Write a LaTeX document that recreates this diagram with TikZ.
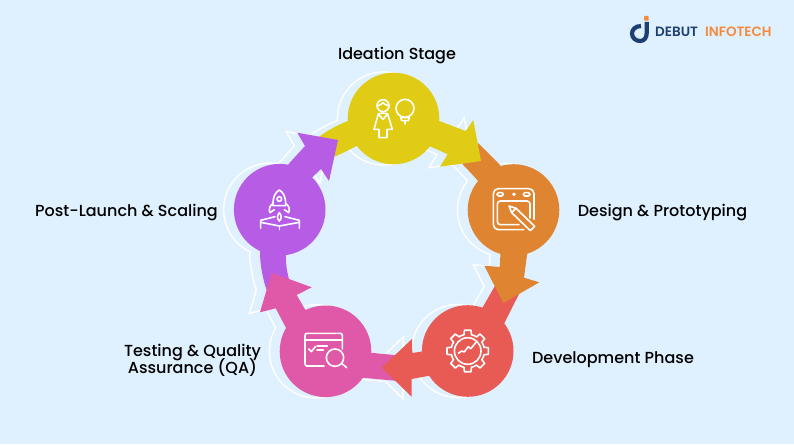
\documentclass[tikz,border=0pt]{standalone}
\usepackage{fontspec}
\setmainfont{Poppins}[UprightFont=* Medium,BoldFont=* SemiBold]
\definecolor{bgc}{HTML}{DFF0FE}
\definecolor{cy}{HTML}{E0CC14}
\definecolor{co}{HTML}{DF8532}
\definecolor{cr}{HTML}{E85A54}
\definecolor{cp}{HTML}{E058A8}
\definecolor{cv}{HTML}{B75CE5}
\definecolor{navy}{HTML}{1D3F72}
\definecolor{lorange}{HTML}{F58A3C}
\tikzset{
  icon/.style={draw=white,line width=1.6pt,line join=round,line cap=round},
  lbl/.style={font=\fontsize{16}{17}\selectfont,text=black,inner sep=0pt,align=center},
  logotext/.style={anchor=west,inner sep=0pt,font=\bfseries\fontsize{13.5}{14}\selectfont},
}
% tails, then circles, then heads: the arrows overlap one another cyclically
\newcommand{\wheel}[5]{%
  \fill[#1] (318.3,137.3) .. controls (328,130) and (338,125) .. (347.7,121) -- (360,130) -- (356.7,146) -- (335,156.7) -- cycle;
  \fill[#2] (478.3,143.3) -- (500,165) -- (505,180) -- (490,190) -- (478,181) .. controls (473,175) and (468,170) .. (462.3,164) -- cycle;
  \fill[#3] (495,285.7) -- (482.7,307.3) -- (470,330) -- (490,340) -- (504.3,323.3) -- (519,294) -- cycle;
  \fill[#4] (371,352.7) -- (396.7,355.3) -- (395,380.7) -- (362.3,377.7) -- (350,365) -- (355,350) -- cycle;
  \fill[#5] (260,251.7) .. controls (260,265) and (263,280) .. (266.7,290) -- (290,283.3) .. controls (287,272) and (285.7,265) .. (286,255) -- (280,230) -- cycle;
  \fill[#1] (393.5,118.5) circle (45.8);
  \fill[#2] (513.5,210) circle (45.8);
  \fill[#3] (467.7,351) circle (45.8);
  \fill[#4] (325.5,351.3) circle (45.8);
  \fill[#5] (279.7,209.7) circle (45.8);
  \fill[#1] (439.3,121) -- (465.7,131) -- (473.3,120) -- (481,161) -- (440,166.7) -- (447.7,154.3) -- (429.3,146) -- (420,130) -- cycle;
  \fill[#2] (500.7,250) -- (499.7,267) -- (484.3,265.7) -- (503.3,303) -- (539.3,282.3) -- (524,277.7) -- (527.7,250) -- cycle;
  \fill[#3] (425,351) -- (412.3,353) -- (412,339) -- (381.7,367.7) -- (411.7,396.7) -- (411.7,379) -- (429.3,375.7) -- (440,365) -- cycle;
  \fill[#4] (285.7,327.3) -- (275.7,308.3) -- (260,312.3) -- (271.7,272.7) -- (311.7,287.3) -- (296.7,295) -- (305,309.3) -- (320,320) -- (300,340) -- cycle;
  \fill[#5] (288.3,164.3) -- (305,146) -- (297.3,132.7) -- (338,140) -- (329,181) -- (321,169) -- (312.3,177.3) -- (290,190) -- cycle;
}
\begin{document}
\begin{tikzpicture}[x=1pt,y=-1pt]
\useasboundingbox (0,0) rectangle (794,444);
\fill[bgc] (0,0) rectangle (794,444);
% white offset outline
\begin{scope}[xshift=-9.5pt]
  \begin{scope}[every path/.append style={draw=white,line width=3pt,line join=miter}]
    \wheel{white}{white}{white}{white}{white}
  \end{scope}
  \wheel{bgc}{bgc}{bgc}{bgc}{bgc}
\end{scope}
\wheel{cy}{co}{cr}{cp}{cv}
% ideation icon
\begin{scope}[shift={(365,90)},scale=1/3,icon]
  \draw (54,47) circle (18);
  \draw (36,48) .. controls (44,46) and (50,43) .. (54,38) .. controls (58,43) and (64,46) .. (72,48);
  \draw (40,72) -- (27,118) -- (42,118) -- (42,143) -- (66,143) -- (66,118) -- (82,118) -- (68,72) -- (54,69) -- cycle;
  \draw (40,72) -- (54,88) -- (68,72);
  \draw (120,55) circle (27);
  \draw (107,83) -- (133,83) -- (130,92) -- (110,92) -- cycle;
  \draw (120,92) -- (120,102);
\end{scope}
% design icon
\begin{scope}[shift={(485,182)},scale=1/3,icon]
  \draw[rounded corners=5pt] (147,112) -- (147,20) -- (25,20) -- (25,143) -- (116,143);
  \draw[rounded corners=3pt] (135,108) -- (135,57) -- (37,57) -- (37,128) -- (102,128);
  \draw[rounded corners=1.5pt] (36,32) rectangle (55,42);
  \draw[rounded corners=1.5pt] (115,32) rectangle (135,42);
  \draw (87,37) circle (3);
  \draw (72,72) -- (93,79) -- (149,133) -- (136,146) -- (80,92) -- cycle;
  \draw (93,79) -- (80,92);
\end{scope}
% development icon
\begin{scope}[shift={(467.7,351)},icon]
  \foreach \a in {0,45,...,315}{
    \draw (\a-13:16.7) -- (\a-9:21) -- (\a+9:21) -- (\a+13:16.7) -- (\a+22.5:16.7) -- (\a+32:16.7);
  }
  \draw (0,0) circle (13.3);
  \draw (-9.3,2.3) -- (-6,0) -- (-3.5,1) -- (0.6,-4.3) -- (3,-2.3) -- (8.6,-9);
\end{scope}
% testing icon
\begin{scope}[shift={(298,325)},scale=1/3,icon]
  \draw[rounded corners=2pt] (133,72) -- (133,25) -- (21,25) -- (21,123) -- (78,123);
  \draw (21,45) -- (133,45);
  \draw (32,72) -- (40,80) -- (52,65);
  \draw (57,63) -- (88,63);
  \draw (57,75) -- (76,75);
  \draw (111,98) circle (26);
  \draw (131,115) -- (146,128);
\end{scope}
% launch icon
\begin{scope}[shift={(255,185)},scale=1/3,icon]
  \draw (73,15) .. controls (85,22) and (93,35) .. (92,62) -- (54,62) .. controls (53,35) and (61,22) .. (73,15) -- cycle;
  \draw (73,42) circle (7);
  \draw (55,55) .. controls (45,60) and (40,72) .. (45,83) -- (58,74);
  \draw (91,55) .. controls (101,60) and (106,72) .. (101,83) -- (88,74);
  \draw (73,83) .. controls (66,92) and (65,100) .. (73,108) .. controls (81,100) and (80,92) .. (73,83) -- cycle;
  \draw (17,130) -- (17,106) -- (60,95);
  \draw (133,130) -- (133,106) -- (90,95);
  \draw (17,112) -- (73,123) -- (133,112);
  \draw (73,123) -- (73,134);
\end{scope}
% labels
\node[lbl] (l1) at (397,55.5) {Ideation Stage};
\node[lbl] (l2) at (662.5,212.5) {Design \& Prototyping};
\node[lbl] (l3) at (613,359.5) {Development Phase};
\node[lbl] (l4) at (192.5,360.5) {Testing \& Quality\\[-3pt]Assurance (QA)};
\node[lbl] (l5) at (126.5,212.5) {Post-Launch \& Scaling};
% logo
\draw[navy,line width=4.2pt] (641,26) .. controls (635,26) and (632,30) .. (632,33.5) .. controls (632,38) and (636,41) .. (640,41) .. controls (644,41) and (646.7,38) .. (646.7,33) -- (646.7,22);
\fill[lorange,rounded corners=0.8pt] (644,16) rectangle (648.6,20.7);
\node[logotext,text=navy] (d) at (655,31.5) {DEBUT};
\node[logotext,text=lorange] (i) at (705,31.5) {INFOTECH};
\end{tikzpicture}
\end{document}
